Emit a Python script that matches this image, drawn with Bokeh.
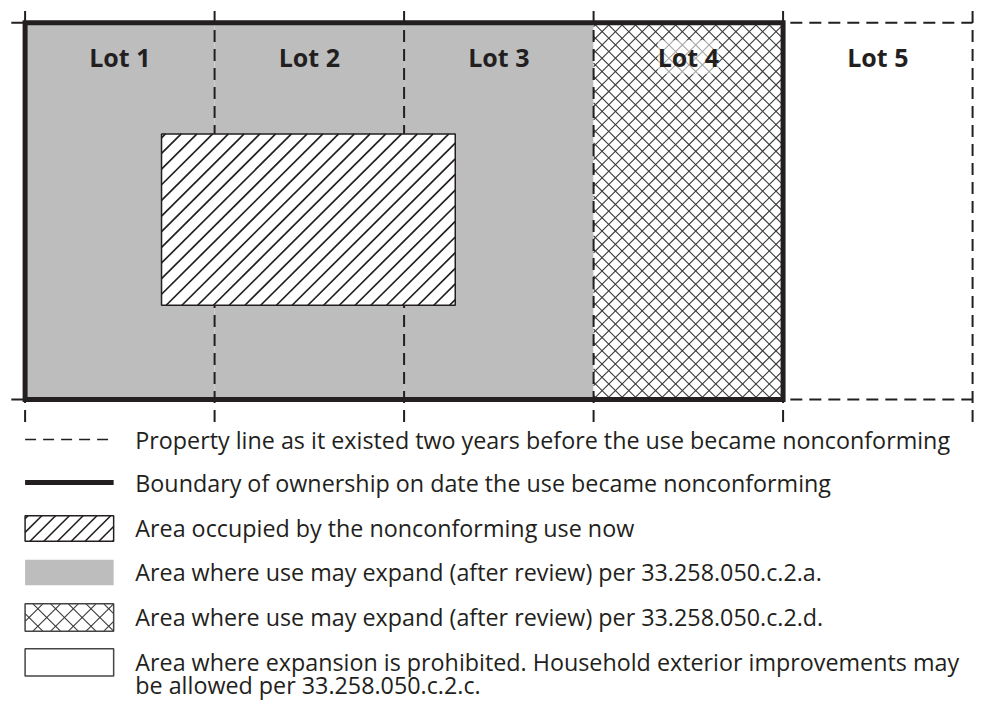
from bokeh.plotting import figure
from bokeh.models import Range1d
from bokeh.core.properties import value
from bokeh.embed import file_html
from bokeh.resources import INLINE

# ---------------- data ----------------
lot_names = ["Lot 1", "Lot 2", "Lot 3", "Lot 4", "Lot 5"]
lot_left = [0, 1, 2, 3, 4]          # lot units
lot_zone = ["a", "a", "a", "d", "none"]
lot_depth = 2                        # lots are 1 wide, 2 deep
owned_lots = 4                       # lots 1-4 owned on the date
occupied_x = [0.72, 2.27]            # nonconforming use footprint
occupied_y = [0.50, 1.41]

legend_labels = [
    "Property line as it existed two years before the use became nonconforming",
    "Boundary of ownership on date the use became nonconforming",
    "Area occupied by the nonconforming use now",
    "Area where use may expand (after review) per 33.258.050.c.2.a.",
    "Area where use may expand (after review) per 33.258.050.c.2.d.",
    "Area where expansion is prohibited. Household exterior improvements may",
]
legend_label_extra = "be allowed per  33.258.050.c.2.c."

# ---------------- layout helpers ----------------
W, H = 977, 703
K = 192.6            # reference pixels per lot unit
OX, OY = 25, 408     # reference pixel of unit origin (left, bottom)
def X(px):
    return (px - OX) / K
def Y(py):
    return (OY - py) / K
def PX(u):
    return OX + u * K
def PY(v):
    return OY - v * K

INK = "#231f20"
GREY = "#bdbdbd"
FONT = value("Open Sans")

p = figure(width=W, height=H, output_backend="svg", toolbar_location=None,
           x_range=Range1d(X(0), X(993)), y_range=Range1d(Y(719), Y(0)),
           min_border=0)
p.axis.visible = False
p.grid.visible = False
p.outline_line_color = None
p.background_fill_color = "white"


def hatch(left, right, bottom, top, step, kinds, color, width, phase=0.0):
    """45-degree hatch lines clipped to a rectangle given in data units."""
    x0, x1 = PX(left), PX(right)
    y0, y1 = PY(top), PY(bottom)          # screen-like, y down
    xs, ys = [], []
    if "/" in kinds:                      # x + y = c
        c = x0 + y0 + phase
        while c < x1 + y1:
            a = max(x0, c - y1)
            b = min(x1, c - y0)
            if b > a:
                xs.append([X(a), X(b)])
                ys.append([Y(c - a), Y(c - b)])
            c += step
    if "\\" in kinds:                     # x - y = c
        c = x0 - y1 + phase
        while c < x1 - y0:
            a = max(x0, c + y0)
            b = min(x1, c + y1)
            if b > a:
                xs.append([X(a), X(b)])
                ys.append([Y(a - c), Y(b - c)])
            c += step
    p.multi_line(xs, ys, line_color=color, line_width=width)


n = len(lot_names)
right_edge = lot_left[-1] + 1

# zone fills
for i in range(n):
    l = lot_left[i]
    if lot_zone[i] == "a":
        p.quad(left=[l], right=[l + 1], bottom=[0], top=[lot_depth],
               fill_color=GREY, line_color=None)
    elif lot_zone[i] == "d":
        p.quad(left=[l], right=[l + 1], bottom=[0], top=[lot_depth],
               fill_color="white", line_color=None)
        hatch(l, l + 1, 0, lot_depth, 13.6, "/\\", "#3a3a3a", 1.1, phase=4)

# property lines (dashed)
dash = "12 7"
ext_lo, ext_hi = Y(431), Y(4)
xs_v = [[b, b] for b in range(0, right_edge + 1)]
ys_v = [[ext_lo, ext_hi] for _ in xs_v]
p.multi_line(xs_v, ys_v, line_color=INK, line_width=2, line_dash=dash)
p.multi_line([[X(11), right_edge], [X(11), right_edge]], [[0, 0], [lot_depth, lot_depth]],
             line_color=INK, line_width=2, line_dash=dash)

# occupied area
p.quad(left=[occupied_x[0]], right=[occupied_x[1]], bottom=[occupied_y[0]], top=[occupied_y[1]],
       fill_color="white", line_color=None)
hatch(occupied_x[0], occupied_x[1], occupied_y[0], occupied_y[1], 16, "/", INK, 1.7, phase=4)
p.quad(left=[occupied_x[0]], right=[occupied_x[1]], bottom=[occupied_y[0]], top=[occupied_y[1]],
       fill_color=None, line_color=INK, line_width=1.5)

# ownership boundary
p.quad(left=[0], right=[owned_lots], bottom=[0], top=[lot_depth],
       fill_color=None, line_color=INK, line_width=5, line_join="miter")

# lot labels
label_y = Y(58)
p.text(x=[l + 0.5 for l in lot_left[:3]] + [lot_left[4] + 0.5], y=[label_y] * 4,
       text=lot_names[:3] + [lot_names[4]], text_font=FONT, text_font_style="bold",
       text_font_size="25px", text_align="center", text_baseline="middle", text_color=INK)
p.text(x=[lot_left[3] + 0.5], y=[label_y], text=[lot_names[3]], text_font=FONT,
       text_font_style="bold", text_font_size="25px", text_align="center",
       text_baseline="middle", text_color=INK,
       background_fill_color="white", background_fill_alpha=0.55)

# ---------------- legend ----------------
sw_l, sw_r = X(25), X(115)
row_y = [449, 493, 540, 585, 631, 677]
p.line([sw_l, sw_r], [Y(row_y[0])] * 2, line_color=INK, line_width=1.6, line_dash="11 7")
p.line([sw_l, sw_r], [Y(row_y[1])] * 2, line_color=INK, line_width=5)

half = 13 / K
b2, t2 = Y(row_y[2]) - half, Y(row_y[2]) + half
p.quad(left=[sw_l], right=[sw_r], bottom=[b2], top=[t2], fill_color="white", line_color=None)
hatch(sw_l, sw_r, b2, t2, 14, "/", INK, 1.6, phase=3)
p.quad(left=[sw_l], right=[sw_r], bottom=[b2], top=[t2], fill_color=None,
       line_color=INK, line_width=1.5)

p.quad(left=[sw_l], right=[sw_r], bottom=[Y(row_y[3]) - half], top=[Y(row_y[3]) + half],
       fill_color=GREY, line_color=None)

b4, t4 = Y(row_y[4]) - 14 / K, Y(row_y[4]) + 14 / K
p.quad(left=[sw_l], right=[sw_r], bottom=[b4], top=[t4], fill_color="white", line_color=None)
hatch(sw_l, sw_r, b4, t4, 18, "/\\", "#3a3a3a", 1.1, phase=0)
p.quad(left=[sw_l], right=[sw_r], bottom=[b4], top=[t4], fill_color=None,
       line_color="#444444", line_width=1.5)

p.quad(left=[sw_l], right=[sw_r], bottom=[Y(row_y[5]) - 14 / K], top=[Y(row_y[5]) + 14 / K],
       fill_color="white", line_color="#444444", line_width=1.5)

p.text(x=[X(137)] * len(legend_labels), y=[Y(v) for v in row_y], text=legend_labels,
       text_font=FONT, text_font_size="23.3px", text_align="left", text_baseline="middle",
       text_color=INK)
p.text(x=[X(137)], y=[Y(700)], text=[legend_label_extra],
       text_font=FONT, text_font_size="23.3px", text_align="left", text_baseline="middle",
       text_color=INK)

open("out.html", "w").write(file_html(p, INLINE))
